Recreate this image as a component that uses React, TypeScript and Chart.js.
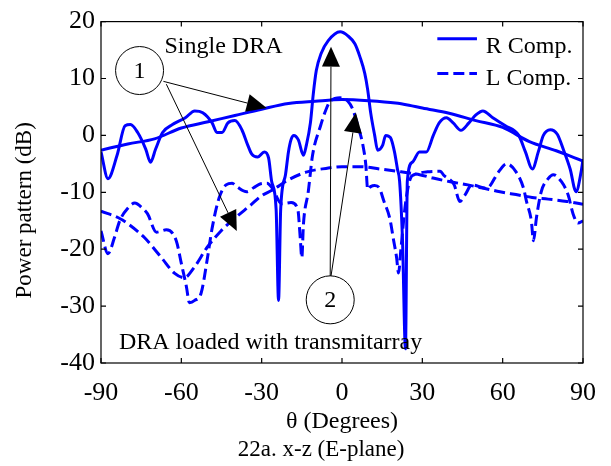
import { useEffect, useRef } from "react";
import { Chart, registerables } from "chart.js";

Chart.register(...registerables);

// ---- data (theta in degrees, power in dB) ----
const X_TICK_STEP = 30;
const Y_TICK_STEP = 10;
const X_RANGE = [-90, 90];
const Y_RANGE = [-40, 20];

const singleRTheta = [-90, -80, -70, -60, -50, -40, -30, -20, -10, 0, 10, 20, 25, 30, 40, 50, 60, 70, 80, 90];
const singleRdB = [-2.6, -1.5, -0.6, 1.3, 2.4, 3.5, 4.6, 5.6, 6.0, 6.3, 6.1, 5.7, 5.3, 4.8, 3.9, 2.6, 1.4, -1.1, -2.7, -4.5];

const singleLTheta = [-90, -83, -80, -73.7, -67.4, -62.6, -58.9, -55.2, -50.4, -45.2, -40.4, -34, -30, -26, -20, -13, -6, 0, 7, 14, 22, 29, 34, 40, 47, 53, 59, 65, 71, 77, 84, 90];
const singleLdB = [-13.3, -14.6, -15.5, -18, -21.5, -24.2, -25, -23.2, -19.7, -16.8, -14.7, -12.2, -10.6, -9.6, -7.8, -6.4, -5.8, -5.5, -5.5, -5.9, -6.4, -6.9, -7.5, -8.1, -8.7, -9.3, -9.9, -10.4, -10.9, -11.2, -11.6, -12.1];

const transRTheta = [-90, -87.4, -84, -81, -79, -76.3, -73.3, -71.5, -69.6, -67, -63.3, -58.5, -55, -52, -48.5, -46.7, -44.8, -42.6, -40, -37.4, -35.2, -33.7, -31.5, -29, -27.4, -26.3, -24.6, -23.7, -22.9, -21.1, -20, -19, -18, -16.3, -14.4, -13.3, -11.8, -10.7, -9.6, -7.8, -5.2, -0.7, 2.2, 4.8, 6.7, 8.5, 9.6, 10.7, 12.2, 13.3, 15.2, 16.3, 18.1, 19.6, 20.7, 21.5, 22.6, 23.7, 24.4, 26.3, 28.9, 31.5, 34.1, 36.3, 39, 41.5, 44.4, 47.4, 50, 52.6, 56.3, 61, 66, 68.5, 71.1, 73.3, 75.2, 77.8, 80.4, 82.6, 85.2, 87.4, 89.3, 90];
const transRdB = [-2.9, -7.6, -3.5, 1.7, 1.9, 0.5, -2.4, -4.7, -2.4, 0.5, 1.9, 3.1, 4.3, 4.0, 2.2, 0.5, 0.5, 2.2, 2.6, 1.0, -1.7, -3.3, -3.8, -2.9, -4.0, -8, -13, -29, -13, -6.9, -2.9, -0.7, 0, -0.8, -3.5, -1.7, 2.2, 7.4, 11.4, 14.4, 16.6, 18.2, 17.5, 16.1, 13.8, 10.9, 8, 4, 0, -2.6, -1.7, 0, -0.4, -2.9, -5.9, -8, -18.5, -37.5, -8, -4.7, -2.9, -2.9, 0, 2.2, 3.1, 2.2, 0.9, 2.2, 3.6, 4.3, 3.1, 1.7, 0, -2.9, -5.9, -2.9, 0, 1.0, 0.2, -2.4, -5.9, -9.9, -6.4, -4.2];

const transLTheta = [-90, -87.4, -85, -83, -80, -77.4, -74.5, -72.6, -69.3, -65.6, -61.9, -60, -58.1, -57, -55, -52.6, -50.4, -48.5, -45.9, -43.3, -41, -39.3, -35.6, -33, -30.4, -28, -26, -22.6, -19, -16.5, -15.6, -15, -14.4, -12.6, -11, -8, -6, -4.4, -0.7, 2.2, 4.1, 5.9, 7.8, 8.9, 9.6, 10.7, 12.2, 14, 15.6, 17.8, 19.3, 20.4, 21.1, 22, 23.7, 25.5, 27, 31.9, 36.7, 38, 41.9, 44, 45.9, 48.5, 54, 58.5, 61.5, 65, 67.8, 68.9, 70.7, 71.5, 72.6, 74.4, 77, 78.9, 81.9, 84.4, 86.3, 88.1, 90];
const transLdB = [-16.8, -20.8, -18, -15, -12.8, -11.9, -12.8, -13.8, -17, -16.6, -18.5, -22.5, -26.6, -29.4, -29, -27.7, -22, -16.3, -11, -8.7, -8.4, -9, -9.9, -9.2, -8.5, -8.4, -9.3, -12, -11.8, -13, -18, -21.5, -15.6, -9.9, -3.5, 1.7, 4.5, 6.0, 6.6, 6, 4.5, 1.7, -1.7, -5.2, -9.5, -9, -8.8, -9.3, -11.5, -14.5, -18.5, -21.5, -24.2, -20, -12, -7.6, -6.9, -6.4, -6.3, -7.0, -8.7, -11.6, -10.5, -8.7, -9.3, -6.4, -5.0, -6.4, -9.3, -11.6, -15, -18.5, -14.5, -9.9, -7.6, -6.9, -8.1, -10.4, -13.8, -15.4, -15];

const SERIES_LABELS = ["R Comp.", "L Comp."];
const X_TITLE = "θ (Degrees)";
const Y_TITLE = "Power pattern (dB)";
const CAPTION = "22a. x-z (E-plane)";

// ---- styling ----
const FONT = "'Liberation Serif', 'Times New Roman', serif";
const BLUE = "#0000ff";
const DASH = [11, 5];

const pts = (xs: number[], ys: number[]) => xs.map((x, i) => ({ x, y: ys[i] }));

const framePlugin = {
  id: "frameTicks",
  afterDraw(chart: any) {
    const { ctx, chartArea: a, scales } = chart;
    const xs = scales.x;
    const ys = scales.y;
    ctx.save();
    ctx.strokeStyle = "#000";
    ctx.lineWidth = 1.2;
    ctx.strokeRect(a.left, a.top, a.right - a.left, a.bottom - a.top);
    const L = 5;
    ctx.beginPath();
    xs.ticks.forEach((t: any) => {
      const p = xs.getPixelForValue(t.value);
      ctx.moveTo(p, a.bottom);
      ctx.lineTo(p, a.bottom - L);
      ctx.moveTo(p, a.top);
      ctx.lineTo(p, a.top + L);
    });
    ys.ticks.forEach((t: any) => {
      const p = ys.getPixelForValue(t.value);
      ctx.moveTo(a.left, p);
      ctx.lineTo(a.left + L, p);
      ctx.moveTo(a.right, p);
      ctx.lineTo(a.right - L, p);
    });
    ctx.stroke();

    // y-axis title
    ctx.fillStyle = "#000";
    ctx.font = `23px ${FONT}`;
    ctx.textAlign = "center";
    ctx.textBaseline = "middle";
    ctx.translate(25, (a.top + a.bottom) / 2 + 18);
    ctx.rotate(-Math.PI / 2);
    ctx.fillText(Y_TITLE, 0, 0);
    ctx.restore();
  },
};

function arrow(ctx: CanvasRenderingContext2D, x1: number, y1: number, x2: number, y2: number) {
  const dx = x2 - x1;
  const dy = y2 - y1;
  const len = Math.hypot(dx, dy);
  const ux = dx / len;
  const uy = dy / len;
  const hl = 20;
  const hw = 9;
  const bx = x2 - ux * hl;
  const by = y2 - uy * hl;
  ctx.beginPath();
  ctx.moveTo(x1, y1);
  ctx.lineTo(bx, by);
  ctx.stroke();
  ctx.beginPath();
  ctx.moveTo(x2, y2);
  ctx.lineTo(bx - uy * hw, by + ux * hw);
  ctx.lineTo(bx + uy * hw, by - ux * hw);
  ctx.closePath();
  ctx.fill();
}

const annotationPlugin = {
  id: "annotations",
  afterDatasetsDraw(chart: any) {
    const { ctx, scales } = chart;
    const X = (v: number) => scales.x.getPixelForValue(v);
    const Y = (v: number) => scales.y.getPixelForValue(v);
    ctx.save();
    ctx.strokeStyle = "#000";
    ctx.fillStyle = "#000";
    ctx.lineWidth = 1;

    // circles with numbers
    const circles = [
      { t: "1", x: -75.6, y: 11.4 },
      { t: "2", x: -4.4, y: -28.9 },
    ];
    ctx.font = `24px ${FONT}`;
    ctx.textAlign = "center";
    ctx.textBaseline = "middle";
    circles.forEach((c) => {
      ctx.beginPath();
      ctx.arc(X(c.x), Y(c.y), 24, 0, Math.PI * 2);
      ctx.fillStyle = "#fff";
      ctx.fill();
      ctx.stroke();
      ctx.fillStyle = "#000";
      ctx.fillText(c.t, X(c.x), Y(c.y) + 1);
    });

    // arrows
    const arrows = [
      [-66.7, 9.5, -28.1, 4.8],
      [-65.6, 9.0, -39.3, -16.8],
      [-4.4, -24.7, -4.1, 15.6],
      [-4.1, -24.7, 5.2, 4.0],
    ];
    arrows.forEach((a) => arrow(ctx, X(a[0]), Y(a[1]), X(a[2]), Y(a[3])));

    // texts
    ctx.textAlign = "left";
    ctx.textBaseline = "alphabetic";
    ctx.font = `24px ${FONT}`;
    ctx.fillText("Single DRA", X(-66.3), Y(14.4));
    ctx.fillText("DRA loaded with transmitarray", X(-83.3), Y(-37.5));

    // legend
    const legendRows = [
      { ds: chart.data.datasets[0], lineY: 17.0, textY: 14.5 },
      { ds: chart.data.datasets[1], lineY: 10.9, textY: 8.8 },
    ];
    legendRows.forEach((r) => {
      ctx.save();
      ctx.strokeStyle = r.ds.borderColor;
      ctx.lineWidth = r.ds.borderWidth;
      ctx.setLineDash(r.ds.borderDash || []);
      ctx.beginPath();
      ctx.moveTo(X(35.6), Y(r.lineY));
      ctx.lineTo(X(50.4), Y(r.lineY));
      ctx.stroke();
      ctx.restore();
      ctx.fillText(r.ds.label, X(53.7), Y(r.textY));
    });

    // caption
    ctx.textAlign = "center";
    ctx.textBaseline = "middle";
    ctx.font = `23px ${FONT}`;
    ctx.fillText(CAPTION, X(-7.8), 450);
    ctx.restore();
  },
};

export default function App() {
  const ref = useRef<HTMLCanvasElement | null>(null);
  useEffect(() => {
    if (!ref.current) return;
    const common = {
      borderColor: BLUE,
      borderWidth: 3,
      pointRadius: 0,
      fill: false,
      cubicInterpolationMode: "monotone" as const,
    };
    const chart = new Chart(ref.current, {
      type: "line",
      data: {
        datasets: [
          { ...common, label: SERIES_LABELS[0], data: pts(transRTheta, transRdB) },
          { ...common, label: SERIES_LABELS[1], data: pts(transLTheta, transLdB), borderDash: DASH },
          { ...common, label: SERIES_LABELS[0], data: pts(singleRTheta, singleRdB) },
          { ...common, label: SERIES_LABELS[1], data: pts(singleLTheta, singleLdB), borderDash: DASH },
        ],
      },
      options: {
        animation: false,
        responsive: false,
        devicePixelRatio: 1,
        layout: { padding: { left: 0, top: 16, right: 24, bottom: 0 } },
        plugins: { legend: { display: false }, tooltip: { enabled: false } },
        scales: {
          x: {
            type: "linear",
            min: X_RANGE[0],
            max: X_RANGE[1],
            ticks: {
              stepSize: X_TICK_STEP,
              color: "#000",
              font: { family: FONT, size: 26 },
              padding: 15,
              maxRotation: 0,
              autoSkip: false,
            },
            grid: { display: false, drawTicks: false },
            border: { display: false },
            title: {
              display: true,
              text: X_TITLE,
              color: "#000",
              font: { family: FONT, size: 24 },
              padding: { top: 0, bottom: 30 },
            },
            afterFit: (s: any) => {
              s.height = 103;
            },
          },
          y: {
            type: "linear",
            min: Y_RANGE[0],
            max: Y_RANGE[1],
            ticks: {
              stepSize: Y_TICK_STEP,
              color: "#000",
              font: { family: FONT, size: 26 },
              padding: 6,
            },
            grid: { display: false, drawTicks: false },
            border: { display: false },
            title: { display: false },
            afterFit: (s: any) => {
              s.width = 101;
            },
          },
        },
      },
      plugins: [framePlugin, annotationPlugin],
    });
    return () => chart.destroy();
  }, []);
  return (
    <div style={{ position: "absolute", left: 0, top: 0, width: 611, height: 466, background: "#fff" }}>
      <canvas ref={ref} width={611} height={466} />
    </div>
  );
}
